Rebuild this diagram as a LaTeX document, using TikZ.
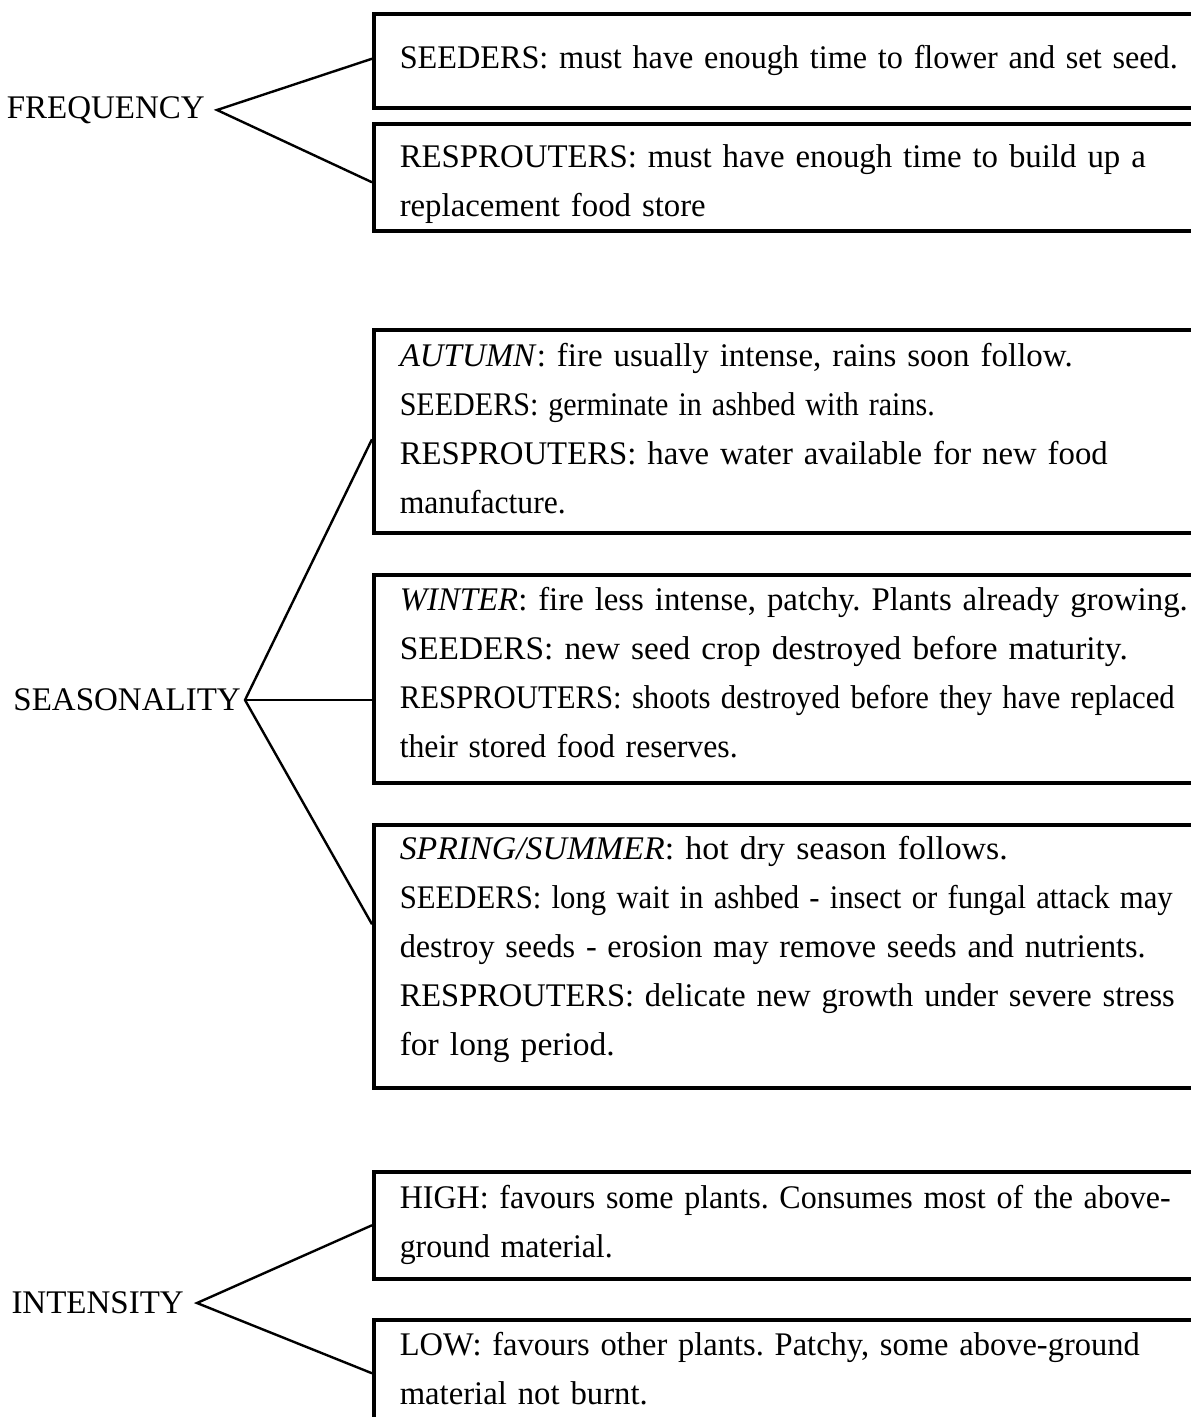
\documentclass[tikz,border=0pt]{standalone}
\usepackage{graphicx}
\usepackage{fontspec}
\setmainfont{Liberation Serif}
\newcommand\fitln[2]{\resizebox{#1pt}{\height}{#2}}
\newcommand\topstrut[1]{\rule{0pt}{#1pt}}
\newcommand\botstrut[1]{\rule[-#1pt]{0pt}{1pt}}
\begin{document}
\begin{tikzpicture}[x=1pt,y=-1pt,
  lbl/.style={font=\fontsize{33}{40}\selectfont, anchor=east, inner ysep=0pt},
  box/.style={draw, line width=3.5pt, anchor=north west, inner xsep=26pt, inner ysep=0pt,
    text width=840pt, align=left, font=\fontsize{33}{49}\selectfont\frenchspacing},
  conn/.style={line width=2.4pt, line join=miter}]
\useasboundingbox (0,0) rectangle (1191,1417);
\clip (0,0) rectangle (1191,1417);
% labels
\node[lbl, inner xsep=12pt] (freq) at (217,110) {FREQUENCY};
\node[lbl, inner xsep=4pt] (seas) at (245,700) {SEASONALITY};
\node[lbl, inner xsep=13pt] (inten) at (197,1303) {INTENSITY};
% boxes
\node[box, minimum height=94pt] (b1) at (372,12) {\fitln{778}{SEEDERS: must have enough time to flower and set seed.}};
\node[box, minimum height=107pt] (b2) at (372,122) {\topstrut{37}\fitln{746}{RESPROUTERS: must have enough time to build up a}\\
  \fitln{306}{replacement food store}};
\node[box, minimum height=203pt] (b3) at (372,328) {\fitln{673}{\textit{AUTUMN}: fire usually intense, rains soon follow.}\\
  \fitln{535}{SEEDERS: germinate in ashbed with rains.}\\
  \fitln{708}{RESPROUTERS: have water available for new food}\\
  \fitln{166}{manufacture.}\botstrut{6}};
\node[box, minimum height=208pt] (b4) at (372,573) {\fitln{788}{\textit{WINTER}: fire less intense, patchy. Plants already growing.}\\
  \fitln{728}{SEEDERS: new seed crop destroyed before maturity.}\\
  \fitln{775}{RESPROUTERS: shoots destroyed before they have replaced}\\
  \fitln{338}{their stored food reserves.}\botstrut{12}};
\node[box, minimum height=263pt] (b5) at (372,823) {\fitln{608}{\textit{SPRING/SUMMER}: hot dry season follows.}\\
  \fitln{773}{SEEDERS: long wait in ashbed - insect or fungal attack may}\\
  \fitln{746}{destroy seeds - erosion may remove seeds and nutrients.}\\
  \fitln{775}{RESPROUTERS: delicate new growth under severe stress}\\
  \fitln{215}{for long period.}\botstrut{21}};
\node[box, minimum height=107pt] (b6) at (372,1170) {\fitln{771}{HIGH: favours some plants. Consumes most of the above-}\\
  \fitln{213}{ground material.}};
\node[box, minimum height=107pt] (b7) at (372,1318) {\fitln{740}{LOW: favours other plants. Patchy, some above-ground}\\
  \fitln{248}{material not burnt.}\botstrut{10}};
% connectors
\draw[conn] ([yshift=2pt]b1.west) -- (freq.east) -- ([yshift=-5pt]b2.west);
\draw[conn] ([yshift=-8pt]b3.west) -- (seas.east) -- ([yshift=32pt]b5.west);
\draw[conn] (seas.east) -- (seas.east -| b4.west);
\draw[conn] (b6.west) -- (inten.east) -- (b7.west);
\end{tikzpicture}
\end{document}
